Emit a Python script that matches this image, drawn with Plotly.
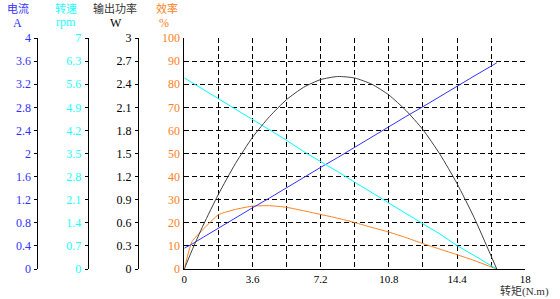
import plotly.graph_objects as go

torque = [0, 0.4, 1.0, 1.8, 2.7, 3.6, 4.5, 5.4, 6.3, 7.2, 8.1, 9.0, 9.9, 10.8, 11.7, 12.6, 13.5, 14.4, 15.3, 16.5]
current_a = [0.36, 0.43, 0.55, 0.71, 0.88, 1.06, 1.23, 1.41, 1.58, 1.76, 1.93, 2.11, 2.28, 2.46, 2.64, 2.81, 2.99, 3.16, 3.34, 3.57]
speed_rpm = [5.79, 5.65, 5.44, 5.16, 4.86, 4.53, 4.21, 3.90, 3.56, 3.26, 2.95, 2.63, 2.31, 2.00, 1.69, 1.37, 1.06, 0.71, 0.41, 0]
power_w = [0, 0.24, 0.57, 0.97, 1.37, 1.71, 1.98, 2.20, 2.36, 2.46, 2.50, 2.48, 2.40, 2.26, 2.06, 1.81, 1.49, 1.11, 0.67, 0]
efficiency = [0, 11.8, 17.2, 23.5, 25.8, 27.2, 27.4, 26.7, 25.2, 23.6, 22.0, 20.1, 18.0, 16.0, 13.6, 11.0, 8.6, 6.2, 3.7, 0]

BLUE = "#3232ff"
CYAN = "#22ffff"
ORANGE = "#ff8020"
BLACK = "#000000"
NUMFONT = "Liberation Serif"
CJK = "Noto Sans CJK SC"

W, H = 560, 299
T_M, B_M = 38, 30
x0, x1 = 184.3, 530.7

fig = go.Figure()
fig.add_trace(go.Scatter(x=torque, y=current_a, yaxis="y2", mode="lines",
                         line=dict(color="#3333ff", width=1), showlegend=False))
fig.add_trace(go.Scatter(x=torque, y=speed_rpm, yaxis="y3", mode="lines",
                         line=dict(color="#00ffff", width=1), showlegend=False))
fig.add_trace(go.Scatter(x=torque, y=power_w, yaxis="y4", mode="lines",
                         line=dict(color="#404040", width=1, shape="spline", smoothing=0.6), showlegend=False))
fig.add_trace(go.Scatter(x=torque, y=efficiency, yaxis="y", mode="lines",
                         line=dict(color=ORANGE, width=1, shape="spline", smoothing=0.5), showlegend=False))

grid = dict(showgrid=True, gridcolor="black", gridwidth=1, griddash="5px,3px")

def side_axis(pos, rng, dt, color):
    return dict(range=rng, dtick=dt, tick0=0, overlaying="y", anchor="free", position=pos,
                side="left", showline=True, linecolor="black", linewidth=1,
                ticks="outside", ticklen=3, tickcolor="black", showgrid=False, zeroline=False,
                tickfont=dict(family=NUMFONT, size=12, color=color), ticklabelstandoff=1)

fig.update_layout(
    width=W, height=H,
    margin=dict(l=0, r=0, t=T_M, b=B_M),
    paper_bgcolor="white", plot_bgcolor="white",
    xaxis=dict(domain=[x0 / W, x1 / W], range=[0, 18], dtick=3.6, tick0=0,
               showline=True, linecolor="black", linewidth=1, zeroline=False,
               ticks="", ticklabelstandoff=0, tickfont=dict(family=NUMFONT, size=11, color=BLACK),
               minor=dict(dtick=1.8, showgrid=True, gridcolor="black", griddash="5px,3px", gridwidth=1),
               **grid),
    yaxis=dict(range=[0, 100], dtick=10, tick0=0, showline=True, linecolor="black", linewidth=1,
               zeroline=False, ticks="", ticklabelstandoff=1,
               tickfont=dict(family=NUMFONT, size=12, color=ORANGE), **grid),
    yaxis2=side_axis(35 / W, [0, 4], 0.4, BLUE),
    yaxis3=side_axis(86 / W, [0, 7], 0.7, CYAN),
    yaxis4=side_axis(137 / W, [0, 3], 0.3, BLACK),
)

def vlabel(x, y, text, color, font=CJK, size=11, xanchor="center", yanchor="middle"):
    plot_h = H - T_M - B_M
    fig.add_annotation(x=x / W, y=(H - B_M - y) / plot_h, xref="paper", yref="paper", text=text,
                       showarrow=False, xanchor=xanchor, yanchor=yanchor, borderpad=0,
                       font=dict(family=font, size=size, color=color))

vlabel(15, 8, "电流", BLUE)
vlabel(15, 23, "A", BLUE, font=NUMFONT, size=12)
vlabel(64, 8, "转速", CYAN)
vlabel(64, 22, "rpm", CYAN, font=NUMFONT, size=12)
vlabel(114, 8, "输出功率", "#333333")
vlabel(115, 23, "W", BLACK, font=NUMFONT, size=12)
vlabel(167, 8, "效率", ORANGE)
vlabel(164, 23, "%", ORANGE, font=NUMFONT, size=12)
vlabel(556, 299, "转矩(N.m)", "#333333", font="Liberation Serif, Noto Sans CJK SC",
       size=11, xanchor="right", yanchor="bottom")

fig.write_html("out.html")
